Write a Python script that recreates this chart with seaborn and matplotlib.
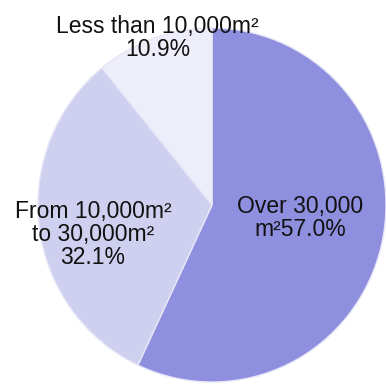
import numpy as np
import matplotlib
matplotlib.use("Agg")
import matplotlib.pyplot as plt
import seaborn as sns

# Share of sites by floor area
categories = ["Over 30,000\nm²", "From 10,000m²\nto 30,000m²\n", "Less than 10,000m²\n"]
shares = [57.0, 32.1, 10.9]
colors = ["#8f8fe0", "#cfcfef", "#eeeefb"]

sns.set_theme(style="white")
plt.rcParams["font.family"] = ["Liberation Sans", "DejaVu Sans"]

fig = plt.figure(figsize=(3.86, 3.87), dpi=100)
ax = fig.add_axes([38 / 386, 5 / 387, 348 / 386, 354 / 387])

wedges, _ = ax.pie(
    shares,
    colors=colors,
    startangle=90,
    counterclock=False,
    radius=1.0,
    wedgeprops=dict(edgecolor="#e6e6f7", linewidth=1.0),
)
ax.set_aspect("auto")
ax.set_xlim(-1, 1)
ax.set_ylim(-1, 1)
ax.axis("off")

# label placement: radial distance from centre plus a small nudge per wedge
label_dist = [0.52, 0.69, 1.02]
label_dx = [0.0, 0.0, 0.03]
label_dy = [0.04, -0.08, -0.02]
for w, cat, val, d, dx, dy in zip(wedges, categories, shares, label_dist, label_dx, label_dy):
    mid = np.deg2rad((w.theta1 + w.theta2) / 2)
    x = d * np.cos(mid) + dx
    y = d * np.sin(mid) + dy
    ax.text(x, y, f"{cat}{val:.1f}%", ha="center", va="center", fontsize=16.5,
            color="#111111", linespacing=1.0)

fig.savefig("out.png", dpi=100)
